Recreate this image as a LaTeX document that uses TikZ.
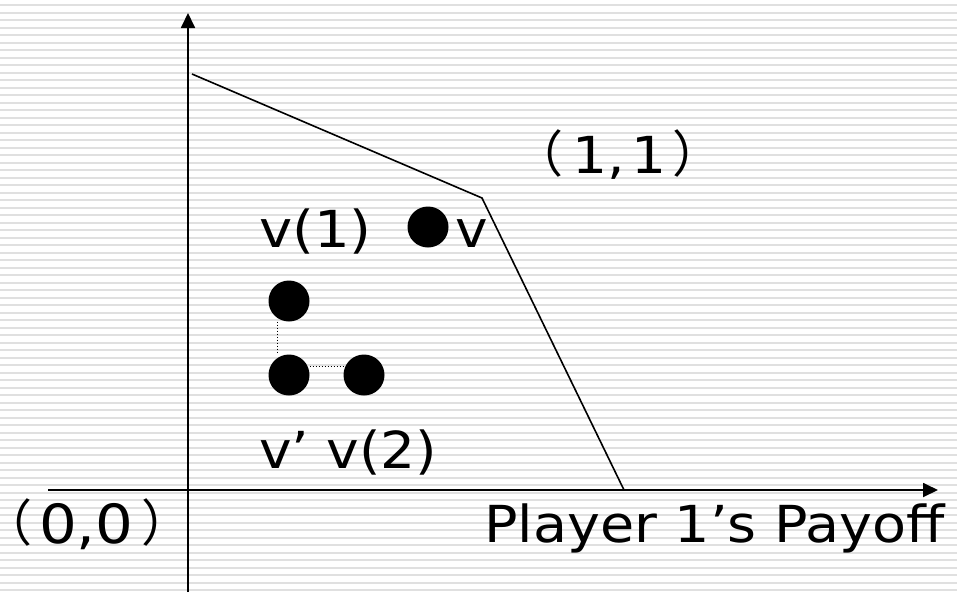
\documentclass[tikz,border=0pt]{standalone}
\usepackage{fontspec}
\setmainfont{DejaVu Sans}
\newfontfamily\cjk{Noto Sans CJK SC}
\usetikzlibrary{arrows.meta,calc}
\definecolor{stripe}{RGB}{224,224,224}
\tikzset{
  axis/.style={line width=1.8pt,-{Triangle[width=14pt,length=15pt]}},
  frontier/.style={line width=1.6pt},
  dot/.style={circle,fill=black,minimum size=41pt,inner sep=0pt},
  lbl/.style={anchor=base west,inner sep=0pt,font=\fontsize{51}{60}\selectfont},
  paren/.style={inner sep=0pt,font=\cjk\fontsize{50}{60}\selectfont},
  guide/.style={line width=1pt,dotted}
}
\begin{document}
\begin{tikzpicture}[x=1pt,y=-1pt]
\useasboundingbox (0,0) rectangle (957,592);
\fill[white] (0,0) rectangle (957,592);
\foreach \i in {0,...,78}{
  \fill[stripe] (0,{4+7.5*\i}) rectangle (957,{6.2+7.5*\i});
}
% axes
\coordinate (ybot) at (188,592);
\coordinate (ytop) at (188,13);
\coordinate (xleft) at (48,490);
\coordinate (xright) at (938,490);
\draw[axis] (ybot) -- (ytop);
\draw[axis] (xleft) -- (xright);
% frontier
\coordinate (f1) at (192,74);
\coordinate (f2) at (482,198);
\coordinate (f3) at (624,490);
\draw[frontier] (f1) -- (f2) -- (f3);
% dots
\node[dot] (dv) at (428,227) {};
\node[dot] (d1) at (289,301) {};
\node[dot] (dp) at (289,375) {};
\node[dot] (d2) at (364,375) {};
\draw[guide] ([xshift=-12pt]d1.south) -- ([xshift=-12pt]dp.north);
\draw[guide] ([yshift=9pt]dp.east) -- ([yshift=9pt]d2.west);
% labels
\node[lbl] (lv1) at (259,247) {\scalebox{1.1}[1]{v(1)}};
\node[lbl] (lv) at (455,247) {\scalebox{1.08}[1]{v}};
\node[lbl] (lv2) at (259,468) {\scalebox{1.08}[1]{v’ v(2)}};
\node[lbl] (lpay) at (484,542) {\scalebox{1.09}[1]{Player 1’s Payoff}};
% (1,1)
\node[paren] (p11l) at (552,153) {\makebox[22pt][r]{（}};
\node[lbl] (t11) at (572,173) {\scalebox{1.08}[1]{1,\hspace{6pt}1}};
\node[paren] (p11r) at (697,153) {）};
% (0,0)
\node[paren] (p00l) at (21,522) {\makebox[22pt][r]{（}};
\node[lbl,font=\fontsize{54}{60}\selectfont] (t00) at (39,543) {\scalebox{1.1}[1]{0,0}};
\node[paren] (p00r) at (166,522) {）};
\end{tikzpicture}
\end{document}
